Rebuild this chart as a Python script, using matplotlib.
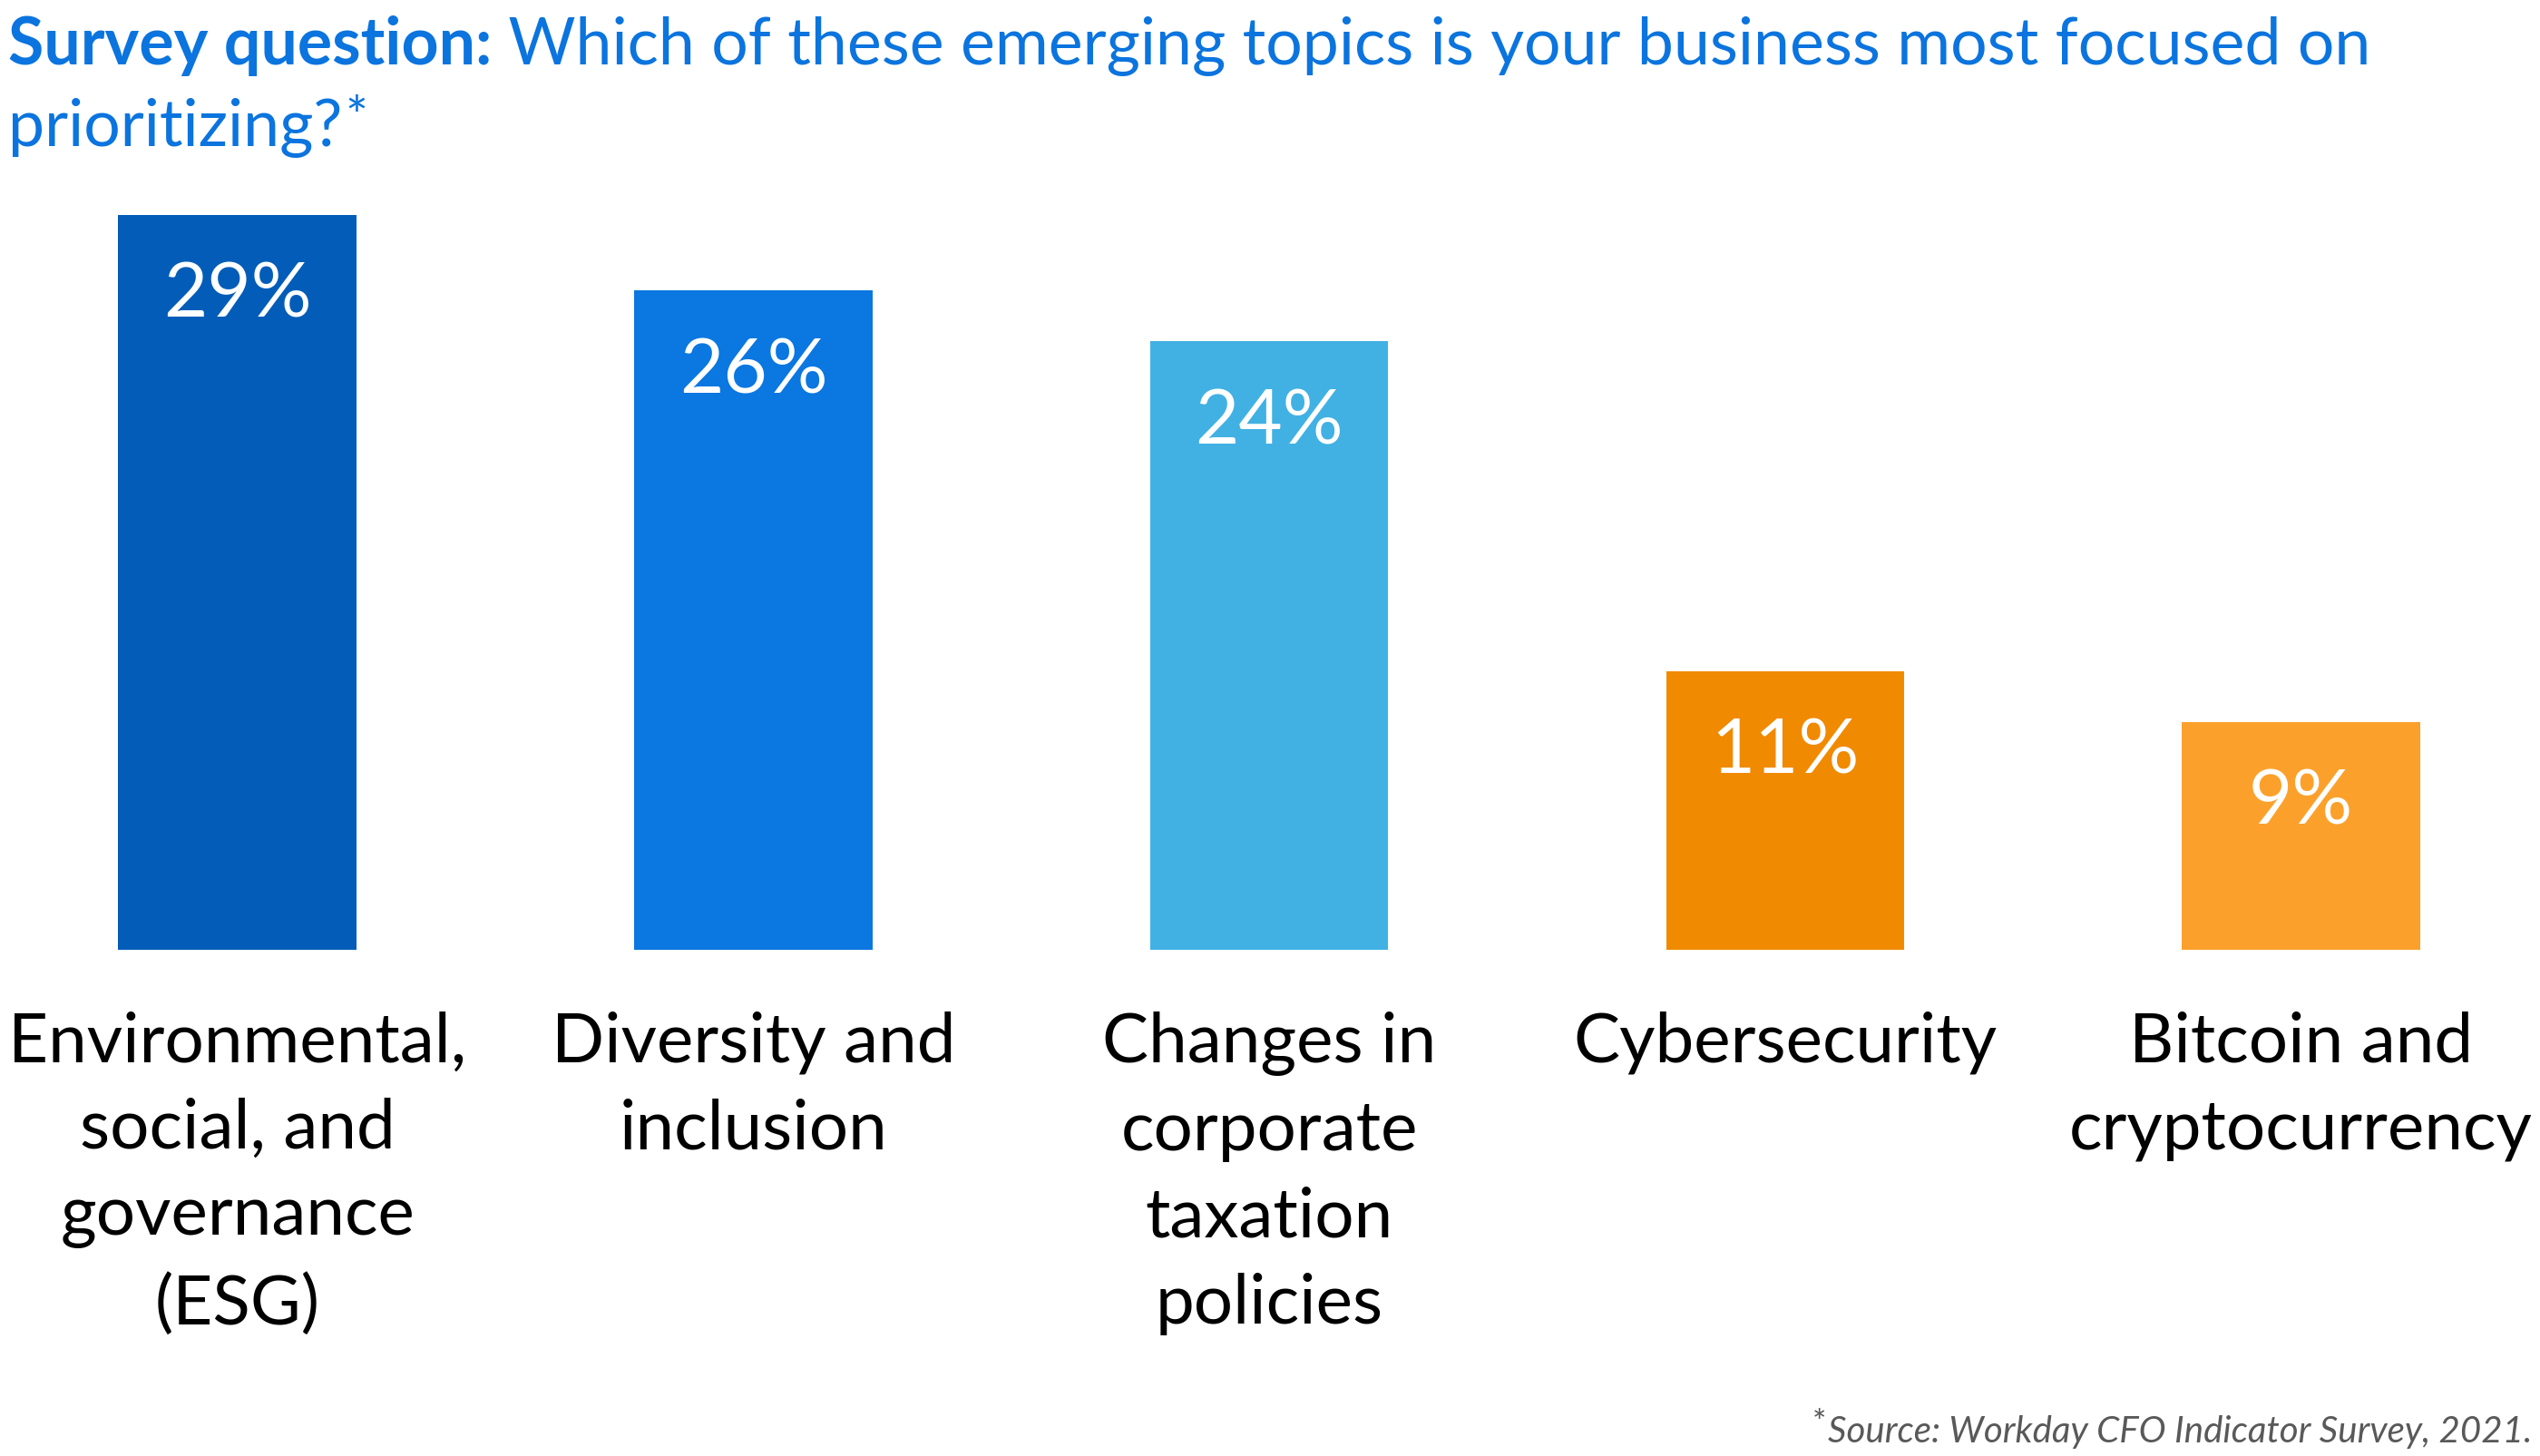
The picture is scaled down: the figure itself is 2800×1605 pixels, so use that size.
import matplotlib
matplotlib.use("Agg")
import matplotlib.pyplot as plt

# data
categories = [
    "Environmental,\nsocial, and\ngovernance\n(ESG)",
    "Diversity and\ninclusion",
    "Changes in\ncorporate\ntaxation\npolicies",
    "Cybersecurity",
    "Bitcoin and\ncryptocurrency",
]
shares = [29, 26, 24, 11, 9]
value_labels = ["29%", "26%", "24%", "11%", "9%"]
bar_colors = ["#035DB8", "#0B77E0", "#41B1E3", "#F08A00", "#FBA12B"]

title_bold = "Survey question:"
title_rest = " Which of these emerging topics is your business most focused on"
title_line2 = "prioritizing?"
source_text = "Source: Workday CFO Indicator Survey, 2021."

FONT = "Lato"
BLUE = "#0B74DE"

plt.rcParams["font.family"] = [FONT, "DejaVu Sans"]

fig = plt.figure(figsize=(14, 8.03), dpi=200)

ax = fig.add_axes([0, 0.3474, 1, 0.5047])
x = list(range(len(categories)))
ax.bar(x, shares, width=0.4615, color=bar_colors)
ax.set_xlim(-0.46, 4.463)
ax.set_ylim(0, 29)
ax.axis("off")

for i, (v, lab) in enumerate(zip(shares, value_labels)):
    ax.annotate(lab, xy=(i, v), xytext=(0, -32), textcoords="offset points",
                ha="center", va="center", color="white", fontsize=30)

for i, cat in enumerate(categories):
    ax.annotate(cat, xy=(i, 0), xytext=(0, -24), textcoords="offset points",
                ha="center", va="top", multialignment="center",
                fontsize=27.5, color="black", linespacing=1.47)

# title: bold lead-in followed by regular text
renderer = fig.canvas.get_renderer()
t1 = fig.text(0.0032, 0.9558, title_bold, fontsize=25.8, fontweight="bold",
              color=BLUE, va="baseline", ha="left")
bb = t1.get_window_extent(renderer)
fig.text(bb.x1 / fig.bbox.width, 0.9558, title_rest, fontsize=25.8,
         color=BLUE, va="baseline", ha="left")
t3 = fig.text(0.0032, 0.8998, title_line2, fontsize=25.8, color=BLUE,
              va="baseline", ha="left")
bb3 = t3.get_window_extent(renderer)
fig.text(bb3.x1 / fig.bbox.width + 0.001, 0.908, "*", fontsize=21,
         color=BLUE, va="baseline", ha="left")

# source note, right aligned with a raised asterisk
ts = fig.text(0.9968, 0.0100, source_text, fontsize=14.5, style="italic",
              color="#595959", va="baseline", ha="right")
bbs = ts.get_window_extent(renderer)
fig.text(bbs.x0 / fig.bbox.width - 0.0005, 0.0160, "*", fontsize=13,
         color="#595959", va="baseline", ha="right")

fig.savefig("out.png", dpi=200, facecolor="white")
